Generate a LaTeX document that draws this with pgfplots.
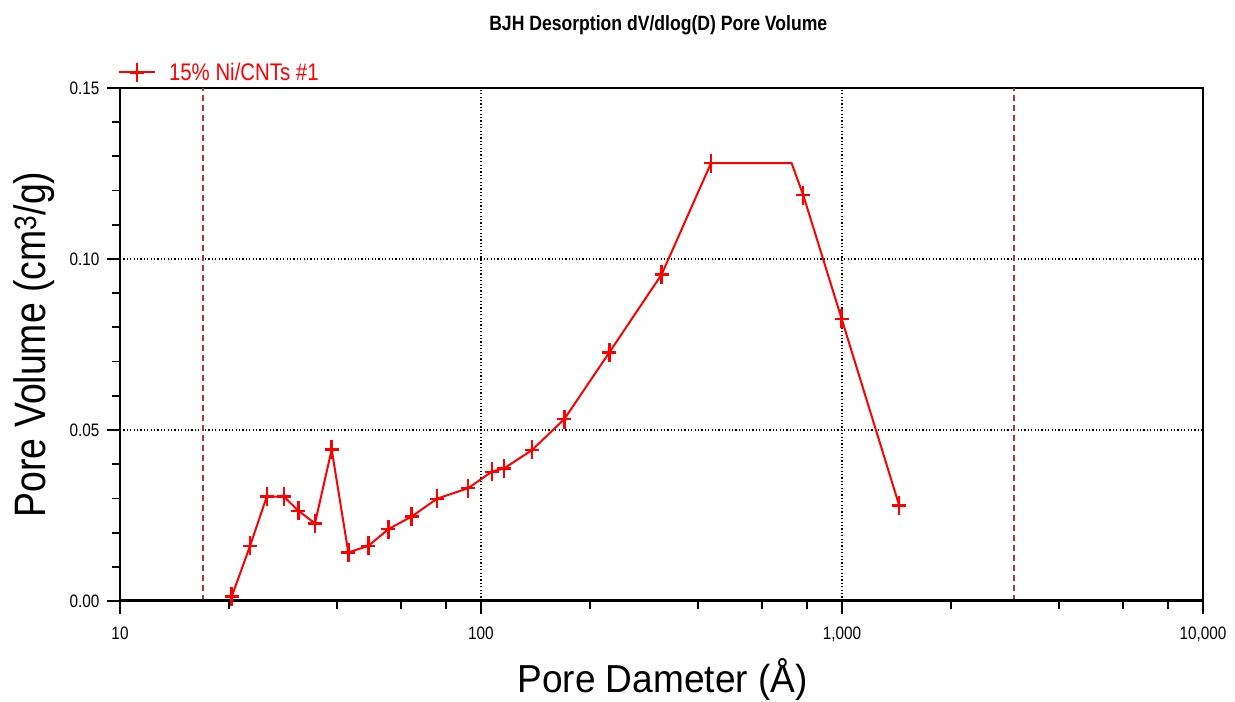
\documentclass[border=0pt]{standalone}
\usepackage{pgfplots}
\pgfplotsset{compat=1.18}
\usepackage{fontspec}
\setmainfont{Liberation Sans}[FakeStretch=0.85]
\newfontfamily\xlabfont{Liberation Sans}[FakeStretch=0.95]
\definecolor{dashred}{RGB}{180,50,50}
\pgfplotstableread{
x y
20.39 0.00126
22.92 0.0161
25.50 0.0305
28.47 0.0305
31.19 0.0264
34.69 0.0227
38.59 0.0443
42.90 0.0142
48.74 0.0161
55.37 0.0210
64.27 0.0247
75.53 0.0299
92.2 0.0330
107.1 0.0378
116.0 0.0388
138.7 0.0442
170.2 0.0532
226.8 0.0727
316.6 0.0955
433.6 0.1280
725.5 0.1280
781.2 0.1187
998 0.0825
1441 0.0279
}\poredata
\begin{document}
\begin{tikzpicture}
\useasboundingbox (-120bp,-101bp) rectangle (1115bp,601bp);
\begin{axis}[
  at={(0,0)}, anchor=south west,
  scale only axis, width=1083bp, height=513bp,
  xmode=log, xmin=10, xmax=10000, ymin=0, ymax=0.15,
  xtick={10,100,1000,10000},
  xticklabels={10,100,{1,000},{10,000}},
  minor xtick={20,40,60,80,200,400,600,800,2000,4000,6000,8000},
  ytick={0,0.05,0.10,0.15},
  minor ytick={0.01,0.02,0.03,0.04,0.06,0.07,0.08,0.09,0.11,0.12,0.13,0.14},
  /pgf/number format/assume math mode=true,
  yticklabel style={xshift=-4bp, /pgf/number format/.cd, fixed, fixed zerofill, precision=2},
  xticklabel style={yshift=-9bp},
  tick align=outside, xtick pos=bottom, ytick pos=left,
  major tick length=13bp, minor tick length=8bp,
  every tick/.style={black, line width=1.8bp},
  axis line style={line width=1.8bp},
  grid=major,
  major grid style={black, line width=1.2bp, dash pattern=on 1.2bp off 2.2bp},
  ticklabel style={font=\fontsize{18bp}{20bp}\selectfont},
  ylabel={Pore Volume (cm\textsuperscript{3}/g)},
  ylabel style={at={(axis description cs:-0.0794,0.5)}, anchor=center, rotate=0, font=\fontsize{44bp}{48bp}\selectfont},
  xlabel={Pore Dameter (Å)},
  xlabel style={at={(axis description cs:0.501,-0.1793)}, anchor=base, font=\xlabfont\fontsize{39bp}{42bp}\selectfont},
  title={\textbf{BJH Desorption dV/dlog(D) Pore Volume}},
  title style={at={(axis description cs:0.497,1)}, anchor=center, yshift=57bp, font=\fontsize{20.7bp}{23bp}\selectfont},
  legend style={draw=none, fill=none, at={(axis description cs:-0.002,1)}, anchor=south west, yshift=4bp, inner sep=0pt, font=\fontsize{24bp}{27bp}\selectfont, text=red},
  legend image code/.code={\draw[#1, mark=none] (0bp,0bp) -- (36bp,0bp); \path[#1] plot coordinates {(18bp,0bp)};},
]
\addplot[dashred, line width=1.5bp, dash pattern=on 6bp off 4bp, forget plot] coordinates {(17,0) (17,0.15)};
\addplot[dashred, line width=1.5bp, dash pattern=on 6bp off 4bp, forget plot] coordinates {(3000,0) (3000,0.15)};
\addplot[red, line width=2bp, mark=+, mark size=9.5bp,
  mark options={xscale=0.74, line width=2.4bp},
  mark indices={1,2,3,4,5,6,7,8,9,10,11,12,13,14,15,16,17,18,19,20,22,23,24}]
  table[x=x, y=y] {\poredata};
\addlegendentry{\hspace{11bp}15\% Ni/CNTs \#1}
\draw[black, line width=3.5bp] (rel axis cs:0,0) -- (rel axis cs:1,0);
\end{axis}
\end{tikzpicture}
\end{document}
